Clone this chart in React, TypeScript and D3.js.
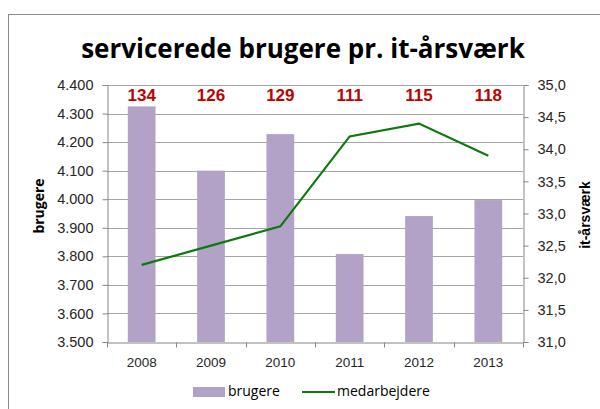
import React, { useEffect, useRef } from 'react';
import * as d3 from 'd3';

const years = ['2008', '2009', '2010', '2011', '2012', '2013'];
const brugere = [4325, 4100, 4228, 3808, 3941, 3997];
const medarbejdere = [32.2, 32.5, 32.8, 34.2, 34.4, 33.9];
const ratioLabels = ['134', '126', '129', '111', '115', '118'];
const leftTicks = [3500, 3600, 3700, 3800, 3900, 4000, 4100, 4200, 4300, 4400];
const rightTicks = [31, 31.5, 32, 32.5, 33, 33.5, 34, 34.5, 35];

const W = 600;
const H = 409;

const App: React.FC = () => {
  const ref = useRef<SVGSVGElement>(null);

  useEffect(() => {
    if (!ref.current) return;
    const svg = d3.select(ref.current);
    svg.selectAll('*').remove();

    const m = { left: 107, right: 523, top: 85, bottom: 342 };
    const axisColor = '#868686';
    const gridColor = '#a6a6a6';
    const arial = 'Liberation Sans, Arial, sans-serif';

    // outer chart border
    svg.append('rect')
      .attr('x', 8.5).attr('y', 14.5)
      .attr('width', 620).attr('height', 420)
      .attr('fill', 'white').attr('stroke', '#8c8c8c').attr('stroke-width', 1);

    const x = d3.scaleBand<string>().domain(years).range([m.left, m.right]).paddingInner(0.6).paddingOuter(0.3);
    const xOuter = d3.scaleBand<string>().domain(years).range([m.left, m.right]);
    const yL = d3.scaleLinear().domain([3500, 4400]).range([m.bottom, m.top]);
    const yR = d3.scaleLinear().domain([31, 35]).range([m.bottom, m.top]);

    const fmtL = (v: number) => d3.format(',')(v).replace(/,/g, '.');
    const fmtR = (v: number) => d3.format('.1f')(v).replace('.', ',');

    // gridlines
    svg.append('g').selectAll('line')
      .data(leftTicks.slice(1))
      .enter().append('line')
      .attr('x1', m.left).attr('x2', m.right)
      .attr('y1', d => Math.round(yL(d)) + 0.5).attr('y2', d => Math.round(yL(d)) + 0.5)
      .attr('stroke', gridColor);

    // bars
    svg.append('g').selectAll('rect')
      .data(brugere)
      .enter().append('rect')
      .attr('x', (_, i) => x(years[i])!)
      .attr('width', x.bandwidth())
      .attr('y', d => yL(d))
      .attr('height', d => m.bottom - yL(d))
      .attr('fill', '#b3a2c7');

    // left axis
    const gl = svg.append('g').attr('transform', `translate(${m.left + 0.5},0)`);
    gl.call(d3.axisLeft(yL).tickValues(leftTicks).tickFormat(d => fmtL(+d)).tickSizeOuter(0).tickSize(5).tickPadding(9));
    gl.select('.domain').attr('stroke', axisColor);
    gl.selectAll('.tick line').attr('stroke', axisColor);
    gl.selectAll('.tick text').attr('font-family', arial).attr('font-size', 14.5).attr('fill', '#262626');

    // right axis
    const gr = svg.append('g').attr('transform', `translate(${m.right + 0.5},0)`);
    gr.call(d3.axisRight(yR).tickValues(rightTicks).tickFormat(d => fmtR(+d)).tickSizeOuter(0).tickSize(5).tickPadding(9));
    gr.select('.domain').attr('stroke', axisColor);
    gr.selectAll('.tick line').attr('stroke', axisColor);
    gr.selectAll('.tick text').attr('font-family', arial).attr('font-size', 14.5).attr('fill', '#262626');

    // bottom axis
    const gb = svg.append('g').attr('transform', `translate(0,${m.bottom + 0.5})`);
    gb.call(d3.axisBottom(xOuter).tickSize(0).tickPadding(10));
    gb.select('.domain').attr('stroke', axisColor);
    gb.selectAll('.tick text').attr('font-family', arial).attr('font-size', 13.5).attr('fill', '#262626').attr('dy', '1.05em');
    gb.append('g').selectAll('line')
      .data([...years.map(y => xOuter(y)!), m.right])
      .enter().append('line')
      .attr('x1', d => Math.round(d) + 0.5).attr('x2', d => Math.round(d) + 0.5)
      .attr('y1', 0).attr('y2', 5)
      .attr('stroke', axisColor);

    // line series
    const line = d3.line<number>()
      .x((_, i) => xOuter(years[i])! + xOuter.bandwidth() / 2)
      .y(d => yR(d));
    svg.append('path')
      .datum(medarbejdere)
      .attr('d', line)
      .attr('fill', 'none')
      .attr('stroke', '#0b7a0b')
      .attr('stroke-width', 2.2);

    // ratio labels
    svg.append('g').selectAll('text')
      .data(ratioLabels)
      .enter().append('text')
      .attr('x', (_, i) => xOuter(years[i])! + xOuter.bandwidth() / 2)
      .attr('y', 101)
      .attr('text-anchor', 'middle')
      .attr('font-family', arial)
      .attr('font-weight', 'bold')
      .attr('font-size', 17)
      .attr('fill', '#c00000')
      .text(d => d);

    // title
    svg.append('text')
      .attr('x', 303).attr('y', 58)
      .attr('text-anchor', 'middle')
      .attr('font-family', 'Open Sans, sans-serif')
      .attr('font-weight', 'bold')
      .attr('font-size', 26)
      .attr('fill', '#000')
      .text('servicerede brugere pr. it-årsværk');

    // axis titles
    svg.append('text')
      .attr('transform', `translate(44,206) rotate(-90)`)
      .attr('text-anchor', 'middle')
      .attr('font-family', 'Open Sans, sans-serif')
      .attr('font-weight', 'bold').attr('font-size', 14)
      .text('brugere');
    svg.append('text')
      .attr('transform', `translate(590,215) rotate(-90)`)
      .attr('text-anchor', 'middle')
      .attr('font-family', arial)
      .attr('font-weight', 'bold').attr('font-size', 14)
      .text('it-årsværk');

    // legend
    const lg = svg.append('g').attr('font-family', 'Open Sans, sans-serif').attr('font-size', 14);
    lg.append('rect').attr('x', 193).attr('y', 387).attr('width', 32).attr('height', 10).attr('fill', '#b3a2c7');
    lg.append('text').attr('x', 228).attr('y', 396).text('brugere');
    lg.append('line').attr('x1', 302).attr('x2', 335).attr('y1', 392).attr('y2', 392).attr('stroke', '#0b7a0b').attr('stroke-width', 2.2);
    lg.append('text').attr('x', 337).attr('y', 396).text('medarbejdere');
  }, []);

  return (
    <svg ref={ref} width={W} height={H} viewBox={`0 0 ${W} ${H}`}
      style={{ position: 'absolute', left: 0, top: 0, background: 'white' }} />
  );
};

export default App;
